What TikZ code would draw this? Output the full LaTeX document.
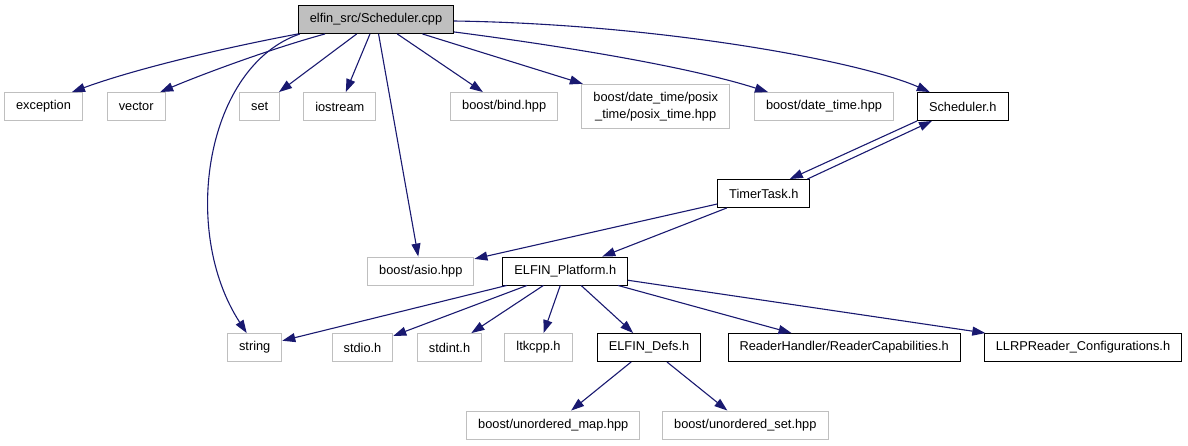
\documentclass[tikz,border=0pt]{standalone}
\usepackage{fontspec}
\setmainfont{Liberation Sans}
\usetikzlibrary{arrows.meta}
\definecolor{edgeblue}{HTML}{191970}
\definecolor{nodegray}{HTML}{BFBFBF}

\begin{document}
\begin{tikzpicture}[
    >={Triangle[length=13pt,width=9pt]}, node distance=87pt,
    every node/.style={draw, align=center, rectangle, line width=0.9pt, inner xsep=11.5pt, inner ysep=7.5pt, minimum height=28pt, font=\fontsize{12.8}{17.5}\selectfont},
    graybox/.style={draw=nodegray},
    blackbox/.style={draw=black},
    link/.style={->, draw=edgeblue, line width=1.1pt}
]
\useasboundingbox (-376pt,19.5pt) rectangle (812pt,-425.5pt);
\node (scheduler_cpp) [blackbox, fill=nodegray] {elfin\_src/Scheduler.cpp};
\node (exception_hdr) [graybox, below of=scheduler_cpp, xshift=-332.5pt] {exception};
\node (vector_hdr) [graybox, right of=exception_hdr, xshift=5.7pt] {vector};
\node (set_hdr) [graybox, right of=vector_hdr, xshift=36.5pt] {set};
\node (iostream_hdr) [graybox, right of=set_hdr, xshift=-6.9pt] {iostream};
\node (boost_bind) [graybox, right of=iostream_hdr, xshift=77.4pt] {boost/bind.hpp};
\node (boost_posix_time) [graybox, right of=boost_bind, xshift=64.5pt] {boost/date\_time/posix\\\_time/posix\_time.hpp};
\node (boost_date_time) [graybox, right of=boost_posix_time, xshift=81.3pt] {boost/date\_time.hpp};
\node (scheduler_h) [blackbox, right of=boost_date_time, xshift=51.8pt] {Scheduler.h};
\node (timer_task_h) [blackbox, below of=scheduler_h, xshift=-199pt] {TimerTask.h};
\node (elfin_platform_h) [blackbox, below of=timer_task_h, xshift=-198.5pt, yshift=9.5pt] {ELFIN\_Platform.h};
\node (boost_asio) [graybox, left of=elfin_platform_h, xshift=-57.5pt] {boost/asio.hpp};
\node (elfin_defs_h) [blackbox, below of=elfin_platform_h, xshift=83.7pt, yshift=10.5pt] {ELFIN\_Defs.h};
\node (ltkcpp_h) [graybox, left of=elfin_defs_h, xshift=-23.5pt] {ltkcpp.h};
\node (stdint_h) [graybox, left of=ltkcpp_h, xshift=-2pt] {stdint.h};
\node (stdio_h) [graybox, left of=stdint_h] {stdio.h};
\node (string_hdr) [graybox, left of=stdio_h, xshift=-20.8pt] {string};
\node (reader_capabilities_h) [blackbox, right of=elfin_defs_h, xshift=108.2pt] {ReaderHandler/ReaderCapabilities.h};
\node (llrp_reader_configurations_h) [blackbox, right of=reader_capabilities_h, xshift=151.8pt] {LLRPReader\_Configurations.h};
\node (boost_unordered_map) [graybox, below of=elfin_defs_h, xshift=-95.7pt, yshift=9.5pt] {boost/unordered\_map.hpp};
\node (boost_unordered_set) [graybox, below of=elfin_defs_h, xshift=96.3pt, yshift=9.5pt] {boost/unordered\_set.hpp};
\draw[link] (scheduler_cpp.south west) .. controls +(-80pt,-15pt) and +(60pt,22pt) .. ([xshift=28.5pt]exception_hdr.north);
\draw[link] ([xshift=-51pt]scheduler_cpp.south) .. controls +(-55pt,-15pt) and +(40pt,17pt) .. ([xshift=24pt]vector_hdr.north);
\draw[link] (scheduler_cpp) -- (set_hdr);
\draw[link] (scheduler_cpp) -- (iostream_hdr);
\draw[link] ([xshift=2pt]scheduler_cpp.south west) .. controls +(-94pt,-32pt) and +(-67pt,103pt) .. ([xshift=-8pt]string_hdr.north);
\draw[link] (scheduler_cpp) -- (boost_asio);
\draw[link] (scheduler_cpp) -- (boost_bind);
\draw[link] (scheduler_cpp) -- (boost_posix_time);
\draw[link] ([yshift=2pt]scheduler_cpp.south east) .. controls +(85pt,-11pt) and +(-88pt,28pt) .. ([xshift=-56pt]boost_date_time.north);
\draw[link] ([yshift=-1.5pt]scheduler_cpp.east) .. controls +(205pt,-3pt) and +(-70pt,31pt) .. ([xshift=-33pt]scheduler_h.north);
\draw[link] (scheduler_h.south west) -- ([xshift=26pt]timer_task_h.north);
\draw[link] ([xshift=-3pt]timer_task_h.north east) -- ([xshift=15pt]scheduler_h.south west);
\draw[link] (timer_task_h) -- (boost_asio);
\draw[link] (timer_task_h) -- (elfin_platform_h);
\draw[link] (elfin_platform_h) -- (string_hdr);
\draw[link] (elfin_platform_h) -- (stdio_h);
\draw[link] (elfin_platform_h) -- (stdint_h);
\draw[link] (elfin_platform_h) -- (ltkcpp_h);
\draw[link] (elfin_platform_h) -- (elfin_defs_h);
\draw[link] (elfin_platform_h) -- (reader_capabilities_h);
\draw[link] (elfin_platform_h) -- (llrp_reader_configurations_h);
\draw[link] (elfin_defs_h) -- (boost_unordered_map);
\draw[link] (elfin_defs_h) -- (boost_unordered_set);
\end{tikzpicture}
\end{document}
